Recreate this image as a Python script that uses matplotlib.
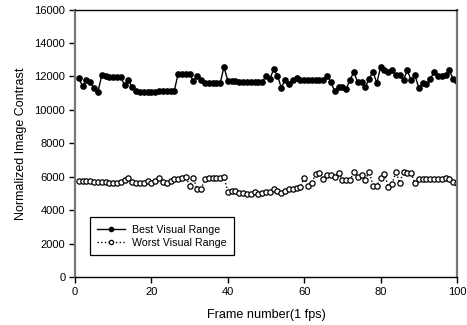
import matplotlib
matplotlib.use('Agg')
import matplotlib.pyplot as plt
import numpy as np

plt.rcParams['font.family'] = ['Liberation Sans', 'DejaVu Sans']

frames = np.arange(1, 101)

best = [11900, 11400, 11800, 11650, 11300, 11070, 12060, 12000, 11980, 11960,
        11950, 11950, 11460, 11760, 11340, 11120, 11050, 11050, 11040, 11040,
        11060, 11100, 11120, 11130, 11140, 11150, 12160, 12160, 12160, 12160,
        11700, 12030, 11760, 11600, 11600, 11580, 11600, 11600, 12560, 11740,
        11720, 11700, 11680, 11650, 11640, 11650, 11660, 11670, 11680, 12000,
        11840, 12420, 12050, 11320, 11800, 11560, 11800, 11900, 11800, 11780,
        11780, 11770, 11770, 11760, 11760, 12040, 11640, 11100, 11360, 11360,
        11260, 11800, 12260, 11640, 11640, 11360, 11860, 12280, 11600, 12560,
        12400, 12240, 12360, 12060, 12060, 11800, 12360, 11760, 12060, 11320,
        11600, 11540, 11840, 12260, 12000, 12040, 12060, 12360, 11840, 11740]

worst = [5750, 5740, 5730, 5720, 5700, 5690, 5680, 5660, 5650, 5650,
         5640, 5680, 5800, 5920, 5680, 5620, 5620, 5600, 5750, 5620,
         5750, 5950, 5680, 5620, 5720, 5840, 5840, 5950, 6010, 5450,
         5910, 5250, 5250, 5840, 5900, 5900, 5900, 5920, 6010, 5075,
         5170, 5135, 5050, 5015, 4990, 4990, 5075, 4990, 5015, 5075,
         5070, 5270, 5150, 5010, 5170, 5250, 5250, 5310, 5410, 5910,
         5450, 5650, 6150, 6250, 5850, 6110, 6110, 6010, 6250, 5810,
         5810, 5810, 6270, 6010, 6110, 5810, 6310, 5470, 5470, 5910,
         6150, 5410, 5550, 6310, 5650, 6310, 6250, 6210, 5610, 5870,
         5870, 5870, 5850, 5850, 5850, 5870, 5950, 5870, 5710, 5610]

fig = plt.figure(figsize=(4.67, 3.25), dpi=100)
ax = fig.add_axes([0.1606, 0.1477, 0.818, 0.823])

ax.plot(frames, best, '-', color='black', lw=1.0, marker='o', ms=3.8,
        mfc='black', mec='black', label='Best Visual Range')
ax.plot(frames, worst, ':', color='black', lw=1.0, marker='o', ms=3.8,
        mfc='white', mec='black', mew=0.9, label='Worst Visual Range')

ax.set_xlim(0, 100)
ax.set_ylim(0, 16000)
ax.set_xticks(np.arange(0, 101, 20))
ax.set_yticks(np.arange(0, 16001, 2000))
ax.tick_params(direction='out', length=4, width=1, labelsize=8, pad=3)

for side in ['left', 'right']:
    ax.spines[side].set_color('#777777')
    ax.spines[side].set_linewidth(1.6)
for side in ['top', 'bottom']:
    ax.spines[side].set_color('black')
    ax.spines[side].set_linewidth(1.0)

ax.set_xlabel('Frame number(1 fps)', fontsize=9.1, labelpad=9)
ax.set_ylabel('Normalized Image Contrast', fontsize=9.0, labelpad=5)

leg = ax.legend(loc='lower left', bbox_to_anchor=(0.039, 0.082), fontsize=7.7,
                fancybox=False, framealpha=1, edgecolor='black', handlelength=2.6,
                borderaxespad=0, labelspacing=0.25, handletextpad=0.6,
                borderpad=0.7, markerscale=0.8)
leg.get_frame().set_linewidth(0.9)

fig.savefig('out.png', dpi=100)
